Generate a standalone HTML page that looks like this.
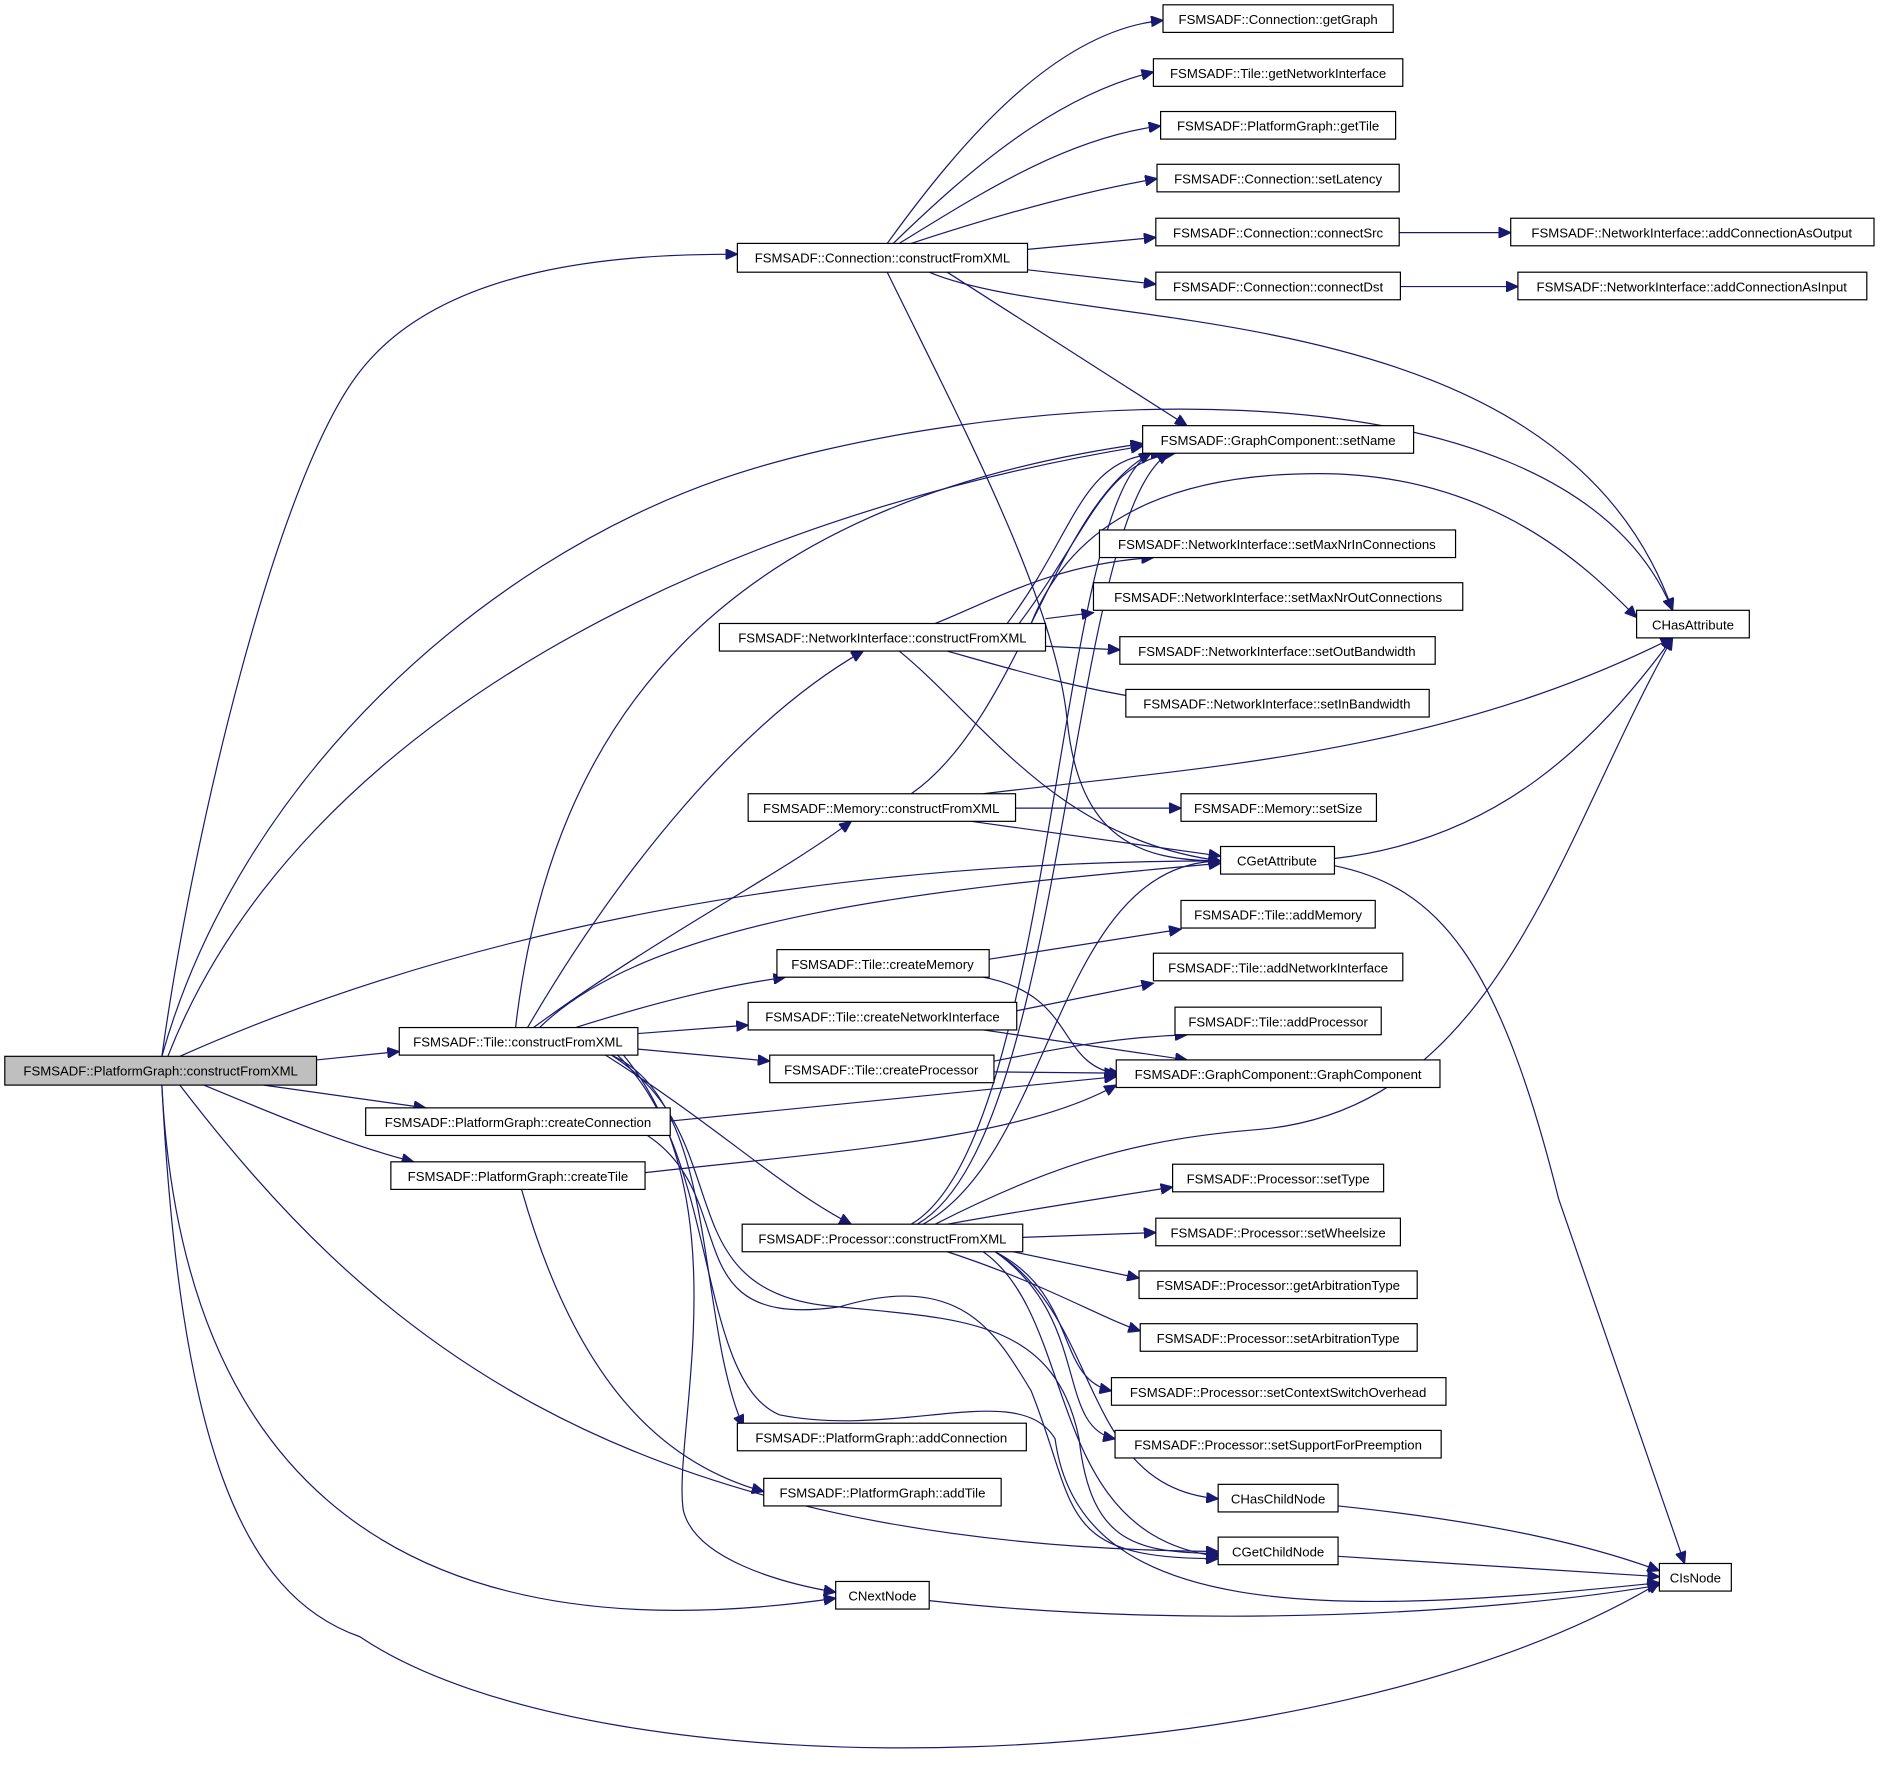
<!DOCTYPE html>
<html><head><meta charset="utf-8"><style>
html,body{margin:0;padding:0;background:#fff;}
svg{display:block;}
text{font-family:"Liberation Sans",sans-serif;font-size:11px;fill:#000;}
.e{fill:none;stroke:#191970;stroke-width:1;marker-end:url(#a);}
.n{fill:#fff;stroke:#000;stroke-width:1;}
</style></head><body>
<svg width="1880" height="1781" viewBox="0 0 1568 1485.4" xmlns="http://www.w3.org/2000/svg">
<defs><marker id="a" markerUnits="userSpaceOnUse" markerWidth="11" markerHeight="9" refX="10" refY="4.5" orient="auto"><path d="M0,0 L10,4.5 L0,9 z" fill="#191970" stroke="#191970"/></marker></defs>
<g>
<path class="e" d="M135,881 C160,700 230,400 300,310 C370,220 520,212 615,212"/>
<path class="e" d="M140,881 C250,600 600,430 953,372"/>
<path class="e" d="M135,881 C200,650 400,470 600,400 C800,330 1300,280 1395,509"/>
<path class="e" d="M150,881 C400,770 700,718 1018,718"/>
<path class="e" d="M264,884 L333,877"/>
<path class="e" d="M220,905 L355,924"/>
<path class="e" d="M170,905 C230,930 290,955 345,969"/>
<path class="e" d="M150,905 C300,1100 500,1290 1016,1294"/>
<path class="e" d="M135,905 C150,1200 300,1390 697,1333"/>
<path class="e" d="M135,905 C150,1200 200,1330 300,1365 C500,1500 1100,1490 1384,1320"/>
<path class="e" d="M740,203 C800,120 880,25 970,17"/>
<path class="e" d="M745,203 C810,140 880,80 962,60"/>
<path class="e" d="M750,203 C820,160 890,115 968,105"/>
<path class="e" d="M760,203 C830,180 900,160 965,149"/>
<path class="e" d="M857,208 L964,198"/>
<path class="e" d="M857,225 L964,237"/>
<path class="e" d="M790,227 L990,355"/>
<path class="e" d="M775,227 C900,280 1300,240 1395,509"/>
<path class="e" d="M740,227 C800,350 880,500 890,600 C900,700 950,718 1018,718"/>
<path class="e" d="M1167,194 L1260,194"/>
<path class="e" d="M1168,239 L1266,239"/>
<path class="e" d="M840,520 C900,440 900,380 970,378"/>
<path class="e" d="M850,520 C910,440 920,385 980,378"/>
<path class="e" d="M780,520 C830,500 880,470 962,465"/>
<path class="e" d="M872,516 L912,511"/>
<path class="e" d="M872,539 L934,542"/>
<path class="e" d="M790,543 C850,560 900,575 970,585"/>
<path class="e" d="M860,520 C900,420 1000,395 1100,395 C1250,395 1330,480 1365,515"/>
<path class="e" d="M750,543 C820,600 880,700 1018,718"/>
<path class="e" d="M760,662 C850,600 880,420 960,378"/>
<path class="e" d="M820,662 C1000,640 1200,630 1395,532"/>
<path class="e" d="M847,674 L985,674"/>
<path class="e" d="M810,685 L1018,714"/>
<path class="e" d="M430,857 C460,600 600,420 953,370"/>
<path class="e" d="M440,857 C520,720 620,600 720,543"/>
<path class="e" d="M445,857 C550,780 650,730 710,685"/>
<path class="e" d="M450,857 C550,760 800,740 1018,720"/>
<path class="e" d="M480,857 C550,835 600,823 655,815"/>
<path class="e" d="M532,862 L624,855"/>
<path class="e" d="M532,875 L642,885"/>
<path class="e" d="M505,880 C600,940 650,990 710,1021"/>
<path class="e" d="M510,880 C600,920 580,1100 620,1190"/>
<path class="e" d="M510,880 C620,950 550,1080 700,1090 C800,1100 880,1100 900,1200 C910,1290 950,1294 1016,1296"/>
<path class="e" d="M520,880 C620,1000 560,1200 570,1260 C580,1300 650,1320 697,1328"/>
<path class="e" d="M515,880 C600,960 580,1150 650,1180 C750,1200 850,1150 880,1200 C900,1350 1100,1350 1384,1320"/>
<path class="e" d="M559,935 L931,898"/>
<path class="e" d="M540,947 C620,1000 560,1110 700,1090 C800,1060 830,1110 860,1160 C900,1260 880,1300 1016,1300"/>
<path class="e" d="M538,978 C700,960 850,950 931,905"/>
<path class="e" d="M435,992 C480,1150 550,1220 637,1244"/>
<path class="e" d="M825,800 L985,775"/>
<path class="e" d="M820,815 C900,830 880,890 935,896"/>
<path class="e" d="M848,843 L962,820"/>
<path class="e" d="M820,859 L990,884"/>
<path class="e" d="M829,885 C880,875 930,865 990,863"/>
<path class="e" d="M829,894 L931,895"/>
<path class="e" d="M760,1021 C880,950 880,420 960,378"/>
<path class="e" d="M765,1021 C890,950 890,430 975,378"/>
<path class="e" d="M770,1021 C880,960 880,720 1018,718"/>
<path class="e" d="M780,1021 C880,970 950,950 1050,942 C1250,925 1300,700 1395,532"/>
<path class="e" d="M790,1021 C880,1005 930,998 978,990"/>
<path class="e" d="M853,1032 L964,1028"/>
<path class="e" d="M845,1044 L950,1066"/>
<path class="e" d="M790,1044 C870,1070 920,1100 951,1110"/>
<path class="e" d="M830,1044 C900,1080 880,1150 927,1160"/>
<path class="e" d="M830,1044 C910,1100 880,1190 930,1200"/>
<path class="e" d="M830,1044 C920,1100 900,1240 1016,1250"/>
<path class="e" d="M820,1044 C900,1100 870,1280 1016,1298"/>
<path class="e" d="M1113,716 C1250,700 1330,620 1395,532"/>
<path class="e" d="M1113,722 C1200,740 1250,800 1300,1000 L1405,1304"/>
<path class="e" d="M1116,1256 C1250,1270 1330,1290 1384,1310"/>
<path class="e" d="M1116,1298 L1384,1315"/>
<path class="e" d="M775,1335 C1000,1360 1250,1345 1384,1322"/>
</g>
<g>
<rect x="4" y="881" width="260" height="24" fill="#bfbfbf" stroke="#000"/><text x="134" y="897" text-anchor="middle">FSMSADF::PlatformGraph::constructFromXML</text>
<rect class="n" x="615" y="203" width="242" height="24"/><text x="736" y="219" text-anchor="middle">FSMSADF::Connection::constructFromXML</text>
<rect class="n" x="970" y="4" width="192" height="23"/><text x="1066" y="20" text-anchor="middle">FSMSADF::Connection::getGraph</text>
<rect class="n" x="962" y="49" width="208" height="23"/><text x="1066" y="65" text-anchor="middle">FSMSADF::Tile::getNetworkInterface</text>
<rect class="n" x="968" y="93" width="196" height="23"/><text x="1066" y="109" text-anchor="middle">FSMSADF::PlatformGraph::getTile</text>
<rect class="n" x="965" y="137" width="202" height="23"/><text x="1066" y="153" text-anchor="middle">FSMSADF::Connection::setLatency</text>
<rect class="n" x="964" y="182" width="203" height="23"/><text x="1066" y="198" text-anchor="middle">FSMSADF::Connection::connectSrc</text>
<rect class="n" x="964" y="227" width="204" height="23"/><text x="1066" y="243" text-anchor="middle">FSMSADF::Connection::connectDst</text>
<rect class="n" x="1260" y="182" width="303" height="23"/><text x="1411" y="198" text-anchor="middle">FSMSADF::NetworkInterface::addConnectionAsOutput</text>
<rect class="n" x="1266" y="227" width="291" height="23"/><text x="1411" y="243" text-anchor="middle">FSMSADF::NetworkInterface::addConnectionAsInput</text>
<rect class="n" x="953" y="355" width="226" height="23"/><text x="1066" y="371" text-anchor="middle">FSMSADF::GraphComponent::setName</text>
<rect class="n" x="917" y="442" width="297" height="23"/><text x="1065" y="458" text-anchor="middle">FSMSADF::NetworkInterface::setMaxNrInConnections</text>
<rect class="n" x="912" y="486" width="308" height="23"/><text x="1066" y="502" text-anchor="middle">FSMSADF::NetworkInterface::setMaxNrOutConnections</text>
<rect class="n" x="934" y="531" width="263" height="23"/><text x="1065" y="547" text-anchor="middle">FSMSADF::NetworkInterface::setOutBandwidth</text>
<rect class="n" x="939" y="575" width="253" height="23"/><text x="1065" y="591" text-anchor="middle">FSMSADF::NetworkInterface::setInBandwidth</text>
<rect class="n" x="1365" y="509" width="94" height="23"/><text x="1412" y="525" text-anchor="middle">CHasAttribute</text>
<rect class="n" x="600" y="520" width="272" height="23"/><text x="736" y="536" text-anchor="middle">FSMSADF::NetworkInterface::constructFromXML</text>
<rect class="n" x="624" y="662" width="223" height="23"/><text x="735" y="678" text-anchor="middle">FSMSADF::Memory::constructFromXML</text>
<rect class="n" x="985" y="662" width="163" height="23"/><text x="1066" y="678" text-anchor="middle">FSMSADF::Memory::setSize</text>
<rect class="n" x="1018" y="706" width="95" height="23"/><text x="1065" y="722" text-anchor="middle">CGetAttribute</text>
<rect class="n" x="985" y="751" width="162" height="23"/><text x="1066" y="767" text-anchor="middle">FSMSADF::Tile::addMemory</text>
<rect class="n" x="648" y="792" width="177" height="23"/><text x="736" y="808" text-anchor="middle">FSMSADF::Tile::createMemory</text>
<rect class="n" x="962" y="795" width="208" height="23"/><text x="1066" y="811" text-anchor="middle">FSMSADF::Tile::addNetworkInterface</text>
<rect class="n" x="624" y="836" width="224" height="23"/><text x="736" y="852" text-anchor="middle">FSMSADF::Tile::createNetworkInterface</text>
<rect class="n" x="980" y="840" width="172" height="23"/><text x="1066" y="856" text-anchor="middle">FSMSADF::Tile::addProcessor</text>
<rect class="n" x="333" y="857" width="199" height="23"/><text x="432" y="873" text-anchor="middle">FSMSADF::Tile::constructFromXML</text>
<rect class="n" x="642" y="880" width="187" height="23"/><text x="735" y="896" text-anchor="middle">FSMSADF::Tile::createProcessor</text>
<rect class="n" x="931" y="884" width="270" height="23"/><text x="1066" y="900" text-anchor="middle">FSMSADF::GraphComponent::GraphComponent</text>
<rect class="n" x="305" y="924" width="254" height="23"/><text x="432" y="940" text-anchor="middle">FSMSADF::PlatformGraph::createConnection</text>
<rect class="n" x="326" y="969" width="212" height="23"/><text x="432" y="985" text-anchor="middle">FSMSADF::PlatformGraph::createTile</text>
<rect class="n" x="978" y="971" width="176" height="23"/><text x="1066" y="987" text-anchor="middle">FSMSADF::Processor::setType</text>
<rect class="n" x="619" y="1021" width="234" height="23"/><text x="736" y="1037" text-anchor="middle">FSMSADF::Processor::constructFromXML</text>
<rect class="n" x="964" y="1016" width="204" height="23"/><text x="1066" y="1032" text-anchor="middle">FSMSADF::Processor::setWheelsize</text>
<rect class="n" x="950" y="1060" width="232" height="23"/><text x="1066" y="1076" text-anchor="middle">FSMSADF::Processor::getArbitrationType</text>
<rect class="n" x="951" y="1104" width="231" height="23"/><text x="1066" y="1120" text-anchor="middle">FSMSADF::Processor::setArbitrationType</text>
<rect class="n" x="927" y="1149" width="279" height="23"/><text x="1066" y="1165" text-anchor="middle">FSMSADF::Processor::setContextSwitchOverhead</text>
<rect class="n" x="930" y="1193" width="272" height="23"/><text x="1066" y="1209" text-anchor="middle">FSMSADF::Processor::setSupportForPreemption</text>
<rect class="n" x="615" y="1187" width="241" height="23"/><text x="735" y="1203" text-anchor="middle">FSMSADF::PlatformGraph::addConnection</text>
<rect class="n" x="637" y="1233" width="198" height="23"/><text x="736" y="1249" text-anchor="middle">FSMSADF::PlatformGraph::addTile</text>
<rect class="n" x="1016" y="1238" width="100" height="23"/><text x="1066" y="1254" text-anchor="middle">CHasChildNode</text>
<rect class="n" x="1016" y="1282" width="100" height="23"/><text x="1066" y="1298" text-anchor="middle">CGetChildNode</text>
<rect class="n" x="697" y="1319" width="78" height="23"/><text x="736" y="1335" text-anchor="middle">CNextNode</text>
<rect class="n" x="1384" y="1304" width="60" height="23"/><text x="1414" y="1320" text-anchor="middle">CIsNode</text>
</g>
</svg>
</body></html>
